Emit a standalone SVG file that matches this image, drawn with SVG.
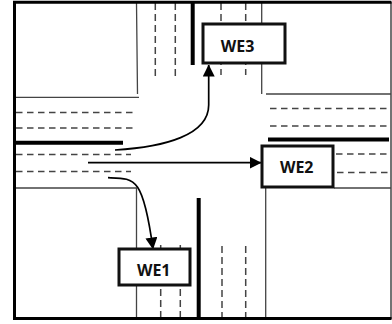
<svg xmlns="http://www.w3.org/2000/svg" width="392" height="324" viewBox="0 0 392 324">
<style>
.road{fill:none;stroke:#444;stroke-width:1.3}
.dash{fill:none;stroke:#444;stroke-width:1.3;stroke-dasharray:6.500 4.500}
.vdash{fill:none;stroke:#444;stroke-width:1.5;stroke-dasharray:7 4}
.bar{fill:none;stroke:#000;stroke-width:4}
.flow{fill:none;stroke:#000;stroke-width:1.7}
.box{fill:#fff;stroke:#111;stroke-width:3}
.lab{font-family:"Open Sans","Liberation Sans",sans-serif;font-weight:700;font-size:16px;fill:#111;text-anchor:middle}
</style>
<defs><marker id="a" viewBox="0 0 12 12" markerWidth="12" markerHeight="12" refX="11.500" refY="6" orient="auto" markerUnits="userSpaceOnUse"><path d="M0 0L12 6L0 12Z" fill="#000"/></marker></defs>
<rect width="392" height="324" fill="#fff"/>
<g id="roads">
<path class="road" d="M136.500 3L137.500 94M14 97.300H139M261.700 3V94M266 94H391M14 188H136.500V318M334 188H391M265.700 188V318"/>
<path class="dash" d="M16 112.500H134M16 128H133M16 154.500H131M16 171.500H131M270 108.500H389M270 126H389M336 154H389M337 172.500H389"/>
<path class="vdash" d="M155.300 3V77M175.300 3V77M221 3V75M245.700 3V75M160.700 245V318M180.300 245V318M222 246V318M245.700 246V318"/>
<path class="bar" d="M15 142.700H123M268 139.500H389M192.700 3V65M198.700 198V318"/>
<path fill="none" stroke="#444" stroke-width="1.500" d="M391 2V319"/>
<path fill="none" stroke="#000" stroke-width="3" d="M391.500 2.300H14.500V318.500H391.500"/>
</g>
<g id="connectors">
<path class="flow" marker-end="url(#a)" d="M115 150C165 147 208.700 135 208.700 105V65"/>
<path class="flow" marker-end="url(#a)" d="M88 162.700H261"/>
<path class="flow" marker-end="url(#a)" d="M108 177.700C135 178.500 143 176 153 249"/>
</g>
<g id="we3"><rect class="box" x="203" y="24" width="82" height="39"/><text class="lab" x="237.500" y="52">WE3</text></g>
<g id="we2"><rect class="box" x="262" y="146" width="71" height="41"/><text class="lab" x="296.700" y="173">WE2</text></g>
<g id="we1"><rect class="box" x="119" y="249" width="71" height="36"/><text class="lab" x="153.700" y="276">WE1</text></g>
</svg>
